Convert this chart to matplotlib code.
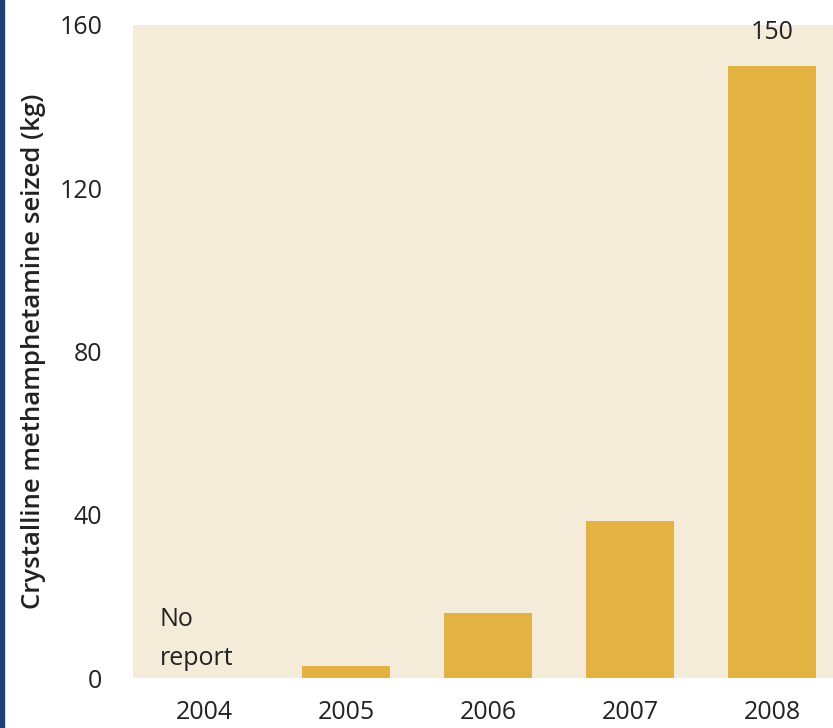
import matplotlib
matplotlib.use("Agg")
import matplotlib.pyplot as plt
from matplotlib.patches import Rectangle

years = ["2004", "2005", "2006", "2007", "2008"]
values = [0, 3, 16, 38.5, 150]
yticks = [0, 40, 80, 120, 160]
ylabel = "Crystalline methamphetamine seized (kg)"

plt.rcParams['font.family'] = ['Open Sans', 'DejaVu Sans']
FS = 18

fig = plt.figure(figsize=(8.33, 7.28), dpi=100)
ax = fig.add_axes([133/833, 50/728, 1 - 133/833, (678-25)/728])
ax.set_facecolor("#F4EBD8")
x = list(range(len(years)))
ax.bar(x[1:], values[1:], width=0.62, color="#E2B342")
ax.set_xlim(-0.5, 4.43)
ax.set_ylim(0, 160)
ax.set_yticks(yticks)
ax.set_yticklabels([str(t) for t in yticks], fontsize=FS, color="#222222")
ax.set_xticks(x)
ax.set_xticklabels(years, fontsize=FS, color="#222222")
ax.tick_params(axis='both', length=0)
ax.tick_params(axis='x', pad=16)
ax.tick_params(axis='y', pad=22)
for s in ax.spines.values():
    s.set_visible(False)
ax.set_ylabel(ylabel, fontsize=18.5, fontweight='semibold', color="#222222", labelpad=10)

ax.text(-0.31, 14.3, "No", fontsize=FS, color="#222222", va='center', ha='left')
ax.text(-0.31, 4.8, "report", fontsize=FS, color="#222222", va='center', ha='left')
ax.text(4, values[4] + 5, "150", fontsize=FS, color="#222222", ha='center', va='bottom')

fig.patches.append(Rectangle((0, 0), 4/833, 1, transform=fig.transFigure, color="#1F3F73", zorder=10))

fig.savefig("out.png", dpi=100)
